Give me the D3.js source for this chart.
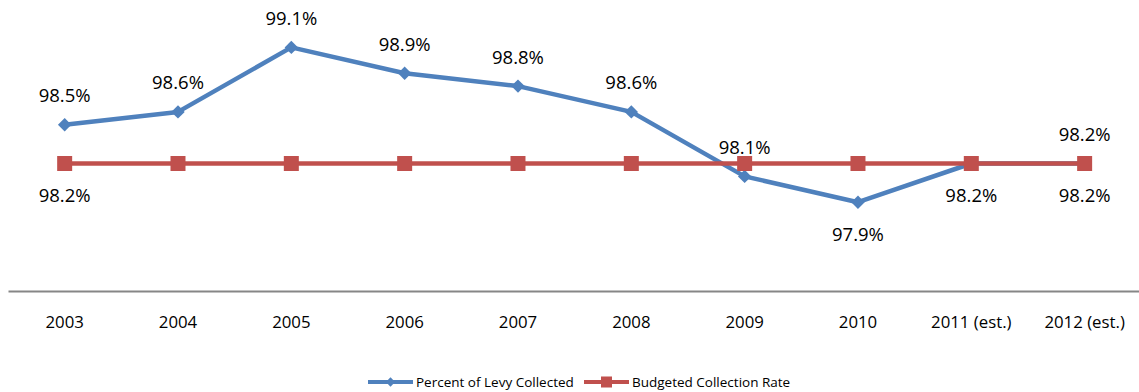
<!DOCTYPE html>
<html>
<head>
<meta charset="utf-8">
<script src="https://cdn.jsdelivr.net/npm/d3@7"></script>
<style>
  html, body { margin: 0; padding: 0; background: #fff; }
  svg { display: block; font-family: "Open Sans", "Liberation Sans", sans-serif; }
</style>
</head>
<body>
<svg id="chart" width="1139" height="392"></svg>
<script>
// Collection history, percent of levy
const years = ["2003", "2004", "2005", "2006", "2007", "2008", "2009", "2010", "2011 (est.)", "2012 (est.)"];
const levyCollected = [98.5, 98.6, 99.1, 98.9, 98.8, 98.6, 98.1, 97.9, 98.2, 98.2];
const budgetedRate = [98.2, 98.2, 98.2, 98.2, 98.2, 98.2, 98.2, 98.2, 98.2, 98.2];
// label placement per point: -1 above, +1 below, 0 none
const levyLabelSide = [-1, -1, -1, -1, -1, -1, -1, 1, 1, -1];
const budgetLabelSide = [1, 0, 0, 0, 0, 0, 0, 0, 0, 1];
const legendNames = ["Percent of Levy Collected", "Budgeted Collection Rate"];

const BLUE = "#4F81BD", RED = "#C0504D";
const svg = d3.select("#chart");

const x = d3.scaleBand().domain(years).range([8, 1141.3]);
const y = d3.scaleLinear().domain([97.2, 99.2]).range([292.5, 34.5]);
const cx = d => x(d) + x.bandwidth() / 2;
const fmt = v => d3.format(".1f")(v) + "%";

// category axis
const xAxis = svg.append("g").attr("transform", "translate(0,291)")
  .call(d3.axisBottom(x).tickSize(0).tickPadding(25));
xAxis.select(".domain").attr("stroke", "#868686").attr("stroke-width", 2);
xAxis.selectAll("text").attr("font-size", 16.8).attr("fill", "#000")
  .attr("font-family", "'Open Sans', 'Liberation Sans', sans-serif");

const line = d3.line().x((d, i) => cx(years[i])).y(d => y(d));

// levy collected series
svg.append("path").datum(levyCollected)
  .attr("d", line).attr("fill", "none").attr("stroke", BLUE).attr("stroke-width", 4.5)
  .attr("stroke-linejoin", "round");
const diamond = d3.symbol().type(d3.symbolDiamond2).size(115);
svg.append("g").selectAll("path").data(levyCollected).join("path")
  .attr("d", diamond)
  .attr("transform", (d, i) => `translate(${cx(years[i])},${y(d)})`)
  .attr("fill", BLUE);

// budgeted rate series
svg.append("path").datum(budgetedRate)
  .attr("d", line).attr("fill", "none").attr("stroke", RED).attr("stroke-width", 4.5);
svg.append("g").selectAll("rect").data(budgetedRate).join("rect")
  .attr("x", (d, i) => cx(years[i]) - 7.5).attr("y", d => y(d) - 7.5)
  .attr("width", 15).attr("height", 15).attr("fill", RED);

// data labels
function labels(values, sides) {
  svg.append("g").selectAll("text")
    .data(values.map((v, i) => ({ v, i, s: sides[i] })).filter(d => d.s !== 0))
    .join("text")
    .attr("x", d => cx(years[d.i]))
    .attr("y", d => y(d.v) + (d.s < 0 ? -29 : 32))
    .attr("dy", "0.35em")
    .attr("text-anchor", "middle")
    .attr("font-size", 18.5)
    .attr("fill", "#000")
    .text(d => fmt(d.v));
}
labels(levyCollected, levyLabelSide);
labels(budgetedRate, budgetLabelSide);

// legend
const legend = svg.append("g").attr("transform", "translate(0,382)");
const items = [
  { name: legendNames[0], color: BLUE, x0: 368, marker: "diamond" },
  { name: legendNames[1], color: RED, x0: 584, marker: "square" }
];
items.forEach(it => {
  legend.append("line").attr("x1", it.x0).attr("x2", it.x0 + 45)
    .attr("y1", 0).attr("y2", 0).attr("stroke", it.color).attr("stroke-width", 4);
  if (it.marker === "diamond") {
    legend.append("path").attr("d", d3.symbol().type(d3.symbolDiamond2).size(55))
      .attr("transform", `translate(${it.x0 + 22.5},0)`).attr("fill", it.color);
  } else {
    legend.append("rect").attr("x", it.x0 + 17).attr("y", -5.5).attr("width", 11).attr("height", 11)
      .attr("fill", it.color);
  }
  legend.append("text").attr("x", it.x0 + 48).attr("y", 0).attr("dy", "0.35em")
    .attr("font-size", 13.5).attr("fill", "#000").text(it.name);
});
</script>
</body>
</html>
